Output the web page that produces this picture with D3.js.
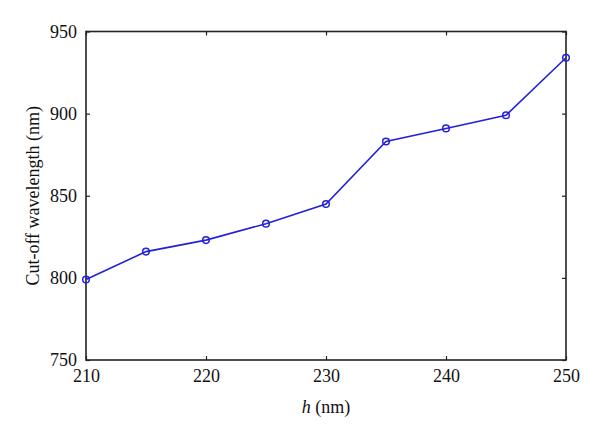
<!DOCTYPE html>
<html><head><meta charset="utf-8">
<script src="https://cdn.jsdelivr.net/npm/d3@7"></script>
<style>body{margin:0;background:#fff}</style>
</head><body><svg id="c" width="600" height="439"></svg>
<script>
const hValues = [210, 215, 220, 225, 230, 235, 240, 245, 250];
const cutoff = [799, 816, 823, 833, 845, 883, 891, 899, 934];
const xTicks = [210, 220, 230, 240, 250];
const yTicks = [750, 800, 850, 900, 950];

const FONT = "Liberation Serif";
const svg = d3.select("#c");
const L = 86, R = 566, T = 31.5, B = 360;
const x = d3.scaleLinear().domain([210, 250]).range([L, R]);
const y = d3.scaleLinear().domain([750, 950]).range([B, T]);

svg.append("rect").attr("width",600).attr("height",439).attr("fill","#fff");

const g = svg.append("g");
g.append("g").attr("transform",`translate(0,${B})`)
  .call(d3.axisBottom(x).tickValues(xTicks).tickSize(-4).tickPadding(9).tickFormat(d3.format("d")));
g.append("g").attr("transform",`translate(0,${T})`)
  .call(d3.axisTop(x).tickValues(xTicks).tickSize(-4).tickFormat(""));
g.append("g").attr("transform",`translate(${L},0)`)
  .call(d3.axisLeft(y).tickValues(yTicks).tickSize(-4).tickPadding(9).tickFormat(d3.format("d")));
g.append("g").attr("transform",`translate(${R},0)`)
  .call(d3.axisRight(y).tickValues(yTicks).tickSize(-4).tickFormat(""));
g.selectAll("g").attr("font-family", FONT).attr("font-size", 18);
g.selectAll(".domain").remove();
g.selectAll(".tick line").attr("stroke","#222").attr("stroke-width",1.2);
g.selectAll(".tick text").style("font-family", FONT).style("font-size","18px").attr("fill","#111");

svg.append("rect").attr("x",L).attr("y",T).attr("width",R-L).attr("height",B-T)
  .attr("fill","none").attr("stroke","#222").attr("stroke-width",1.6);

const pts = hValues.map((h,i)=>[h,cutoff[i]]);
svg.append("path").datum(pts)
  .attr("d", d3.line().x(d=>x(d[0])).y(d=>y(d[1])))
  .attr("fill","none").attr("stroke","#2222d8").attr("stroke-width",1.6);
svg.selectAll("circle.m").data(pts).enter().append("circle")
  .attr("cx",d=>x(d[0])).attr("cy",d=>y(d[1])).attr("r",3.3)
  .attr("fill","none").attr("stroke","#2222d8").attr("stroke-width",1.5);

svg.append("text").attr("transform",`translate(39,${(T+B)/2}) rotate(-90)`)
  .attr("text-anchor","middle").style("font-family", FONT).style("font-size","18px").attr("fill","#111")
  .text("Cut-off wavelength (nm)");
const xl = svg.append("text").attr("x",(L+R)/2).attr("y",413).attr("text-anchor","middle")
  .style("font-family", FONT).style("font-size","18px").attr("fill","#111");
xl.append("tspan").attr("font-style","italic").text("h");
xl.append("tspan").text(" (nm)");
</script></body></html>
